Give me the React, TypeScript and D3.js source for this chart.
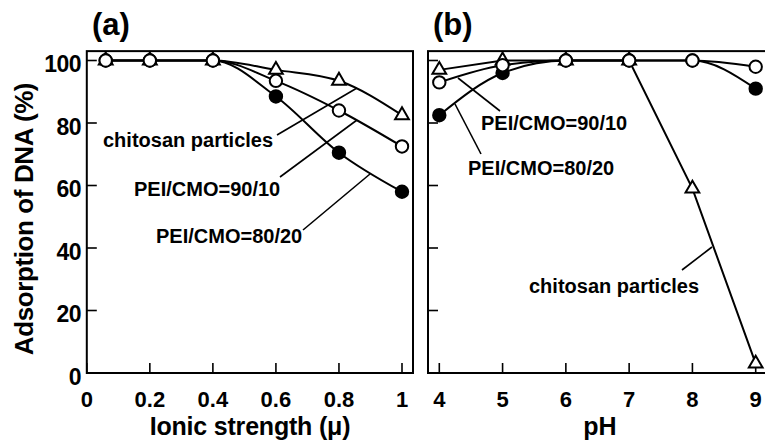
import React from "react";
import * as d3 from "d3";

// panel (a): ionic strength
const ionicX = [0.06, 0.2, 0.4, 0.6, 0.8, 1.0];
const ionicChitosan = [100, 100, 100, 97, 93.5, 82.5];
const ionic9010 = [100, 100, 100, 93.5, 84, 72.5];
const ionic8020 = [100, 100, 100, 88.5, 70.5, 58];

// panel (b): pH
const phX = [4, 5, 6, 7, 8, 9];
const phChitosan = [97, 100, 100, 100, 59, 3];
const ph9010 = [93, 98.5, 100, 100, 100, 98];
const ph8020 = [82.5, 96, 100, 100, 100, 91];

const yTicks = [0, 20, 40, 60, 80, 100];
const ionicTicks = [0, 0.2, 0.4, 0.6, 0.8, 1];
const ionicTickLabels = ["0", "0.2", "0.4", "0.6", "0.8", "1"];
const phTicks = [4, 5, 6, 7, 8, 9];

const FONT = "'Liberation Sans', Arial, Helvetica, sans-serif";

const W = 765;
const H = 446;

const y = d3.scaleLinear().domain([0, 100]).range([373, 60.5]);
const xa = d3.scaleLinear().domain([0, 1]).range([86.8, 402]);
const xb = d3.scaleLinear().domain([4, 9]).range([439.3, 755.7]);

const triPath = d3.symbol(d3.symbolTriangle, 82)()!;

function Series({ xs, ys, sx, curve }: any) {
  const pts: [number, number][] = xs.map((v: number, i: number) => [sx(v), y(ys[i])]);
  const line = d3.line().curve(curve)(pts)!;
  return <path d={line} fill="none" stroke="#000" strokeWidth={2} />;
}

function Markers({ xs, ys, sx, kind }: any) {
  return (
    <g>
      {xs.map((v: number, i: number) => {
        const cx = sx(v);
        const cy = y(ys[i]);
        if (kind === "tri")
          return (
            <path key={i} d={triPath} transform={`translate(${cx},${cy})`} fill="#fff" stroke="#000" strokeWidth={2} />
          );
        return (
          <circle key={i} cx={cx} cy={cy} r={6.2} fill={kind === "filled" ? "#000" : "#fff"} stroke="#000" strokeWidth={2} />
        );
      })}
    </g>
  );
}

function Leader({ x1, y1, x2, y2 }: any) {
  return <line x1={x1} y1={y1} x2={x2} y2={y2} stroke="#000" strokeWidth={1.6} />;
}

export default function App() {
  const top = y(103);
  const bottom = y(0);
  const tick = 10;
  const lbl = { fontFamily: FONT, fontWeight: 700, fill: "#000" } as const;

  return (
    <svg width={W} height={H} style={{ position: "absolute", left: 0, top: 0, background: "#fff" }}>
      {/* panel a frame */}
      <rect x={xa(0)} y={top} width={413 - xa(0)} height={bottom - top} fill="none" stroke="#000" strokeWidth={2} />
      {/* panel b frame */}
      <rect x={428} y={top} width={W + 5 - 428} height={bottom - top} fill="none" stroke="#000" strokeWidth={2} />

      {/* ticks a */}
      {yTicks.map((t) => (
        <line key={"ya" + t} x1={xa(0)} x2={xa(0) + tick} y1={y(t)} y2={y(t)} stroke="#000" strokeWidth={1.6} />
      ))}
      {ionicTicks.map((t) => (
        <line key={"xa" + t} x1={xa(t)} x2={xa(t)} y1={bottom} y2={bottom - tick} stroke="#000" strokeWidth={1.6} />
      ))}
      {/* ticks b */}
      {yTicks.map((t) => (
        <line key={"yb" + t} x1={428} x2={428 + tick} y1={y(t)} y2={y(t)} stroke="#000" strokeWidth={1.6} />
      ))}
      {phTicks.map((t) => (
        <line key={"xb" + t} x1={xb(t)} x2={xb(t)} y1={bottom} y2={bottom - tick} stroke="#000" strokeWidth={1.6} />
      ))}

      {/* tick labels */}
      {yTicks.map((t) => (
        <text key={"yl" + t} x={81} y={y(t) + 11.5} textAnchor="end" fontSize={23} letterSpacing={-0.5} {...lbl}>
          {t}
        </text>
      ))}
      {ionicTicks.map((t, i) => (
        <text key={"xl" + t} x={xa(t)} y={407} textAnchor="middle" fontSize={22} {...lbl}>
          {ionicTickLabels[i]}
        </text>
      ))}
      {phTicks.map((t) => (
        <text key={"pl" + t} x={xb(t)} y={407} textAnchor="middle" fontSize={22} {...lbl}>
          {t}
        </text>
      ))}

      {/* axis titles */}
      <text x={250} y={435} textAnchor="middle" fontSize={25} letterSpacing={-0.2} {...lbl}>
        Ionic strength (μ)
      </text>
      <text x={600} y={435} textAnchor="middle" fontSize={25} {...lbl}>
        pH
      </text>
      <text transform="translate(33,219) rotate(-90)" textAnchor="middle" fontSize={26} letterSpacing={-0.4} {...lbl}>
        Adsorption of DNA (%)
      </text>

      {/* panel letters */}
      <text x={92} y={35} fontSize={31} {...lbl}>(a)</text>
      <text x={433} y={35} fontSize={31} {...lbl}>(b)</text>

      {/* panel a data */}
      <Series xs={ionicX} ys={ionicChitosan} sx={xa} curve={d3.curveMonotoneX} />
      <Series xs={ionicX} ys={ionic9010} sx={xa} curve={d3.curveMonotoneX} />
      <Series xs={ionicX} ys={ionic8020} sx={xa} curve={d3.curveMonotoneX} />
      <Markers xs={ionicX} ys={ionic8020} sx={xa} kind="filled" />
      <Markers xs={ionicX} ys={ionicChitosan} sx={xa} kind="tri" />
      <Markers xs={ionicX} ys={ionic9010} sx={xa} kind="open" />

      {/* panel b data */}
      <Series xs={phX} ys={phChitosan} sx={xb} curve={d3.curveLinear} />
      <Series xs={phX} ys={ph9010} sx={xb} curve={d3.curveMonotoneX} />
      <Series xs={phX} ys={ph8020} sx={xb} curve={d3.curveMonotoneX} />
      <Markers xs={phX} ys={ph8020} sx={xb} kind="filled" />
      <Markers xs={phX} ys={phChitosan} sx={xb} kind="tri" />
      <Markers xs={phX} ys={ph9010} sx={xb} kind="open" />

      {/* annotations a */}
      <Leader x1={277} y1={135} x2={357} y2={88} />
      <Leader x1={280} y1={177} x2={357} y2={120} />
      <Leader x1={303} y1={230} x2={370} y2={174} />
      <text x={103} y={147} fontSize={20} {...lbl}>chitosan particles</text>
      <text x={134} y={196} fontSize={20} {...lbl}>PEI/CMO=90/10</text>
      <text x={156} y={243} fontSize={20} {...lbl}>PEI/CMO=80/20</text>

      {/* annotations b */}
      <Leader x1={500} y1={111} x2={458} y2={78} />
      <Leader x1={481} y1={154} x2={455} y2={104} />
      <Leader x1={682} y1={270} x2={712} y2={247} />
      <text x={481} y={130} fontSize={20} {...lbl}>PEI/CMO=90/10</text>
      <text x={468} y={175} fontSize={20} {...lbl}>PEI/CMO=80/20</text>
      <text x={529} y={293} fontSize={20} {...lbl}>chitosan particles</text>
    </svg>
  );
}
